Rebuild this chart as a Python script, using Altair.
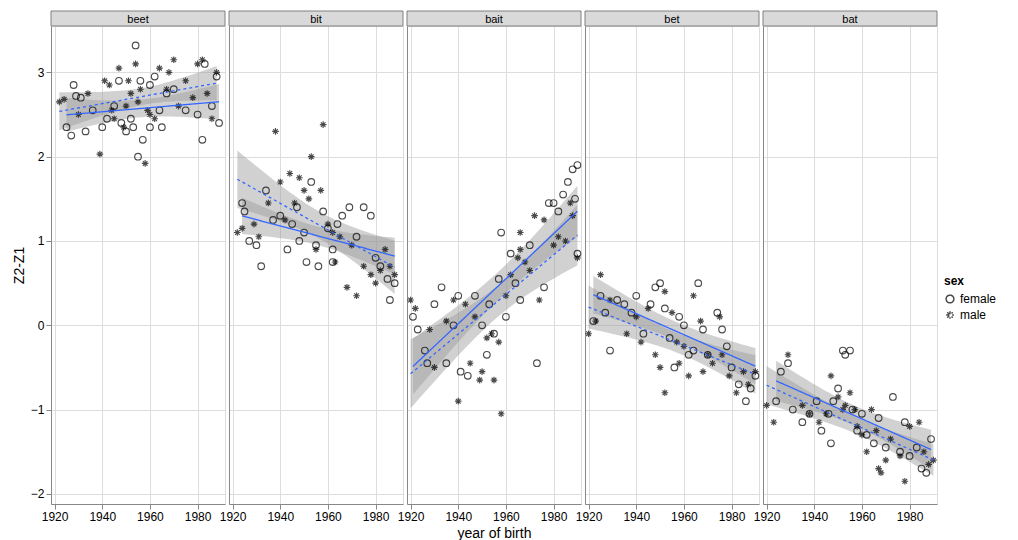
import altair as alt
import numpy as np
import pandas as pd

vowels = ["beet", "bit", "bait", "bet", "bat"]

# (year, Z2-Z1) per vowel and sex
beet_f = [(1925,2.35),(1927,2.25),(1928,2.85),(1929,2.72),(1931,2.7),(1933,2.3),(1936,2.55),(1940,2.35),
          (1942,2.45),(1945,2.6),(1947,2.9),(1948,2.4),(1950,2.3),(1952,2.45),(1953,2.35),(1954,3.32),
          (1955,2.0),(1956,2.9),(1957,2.2),(1960,2.35),(1960,2.85),(1962,2.95),(1964,2.55),(1965,2.35),
          (1967,2.75),(1970,2.8),(1975,2.55),(1980,2.5),(1982,2.2),(1983,3.1),(1986,2.6),(1988,2.95),(1989,2.4)]
beet_m = [(1922,2.65),(1924,2.68),(1930,2.5),(1934,2.75),(1939,2.03),(1941,2.9),(1943,2.85),(1944,2.55),
          (1945,2.45),(1947,3.05),(1949,2.35),(1950,2.6),(1951,2.9),(1952,2.75),(1954,3.1),(1955,2.65),
          (1956,2.8),(1958,1.92),(1959,2.55),(1960,2.5),(1962,2.45),(1964,3.05),(1967,2.8),(1968,3.0),
          (1970,3.15),(1972,2.6),(1975,2.9),(1978,2.7),(1980,3.1),(1982,3.15),(1984,2.75),(1986,2.45),(1988,3.0)]
bit_f = [(1924,1.45),(1925,1.35),(1927,1.0),(1930,0.95),(1932,0.7),(1934,1.6),(1937,1.25),(1940,1.3),
         (1943,0.9),(1945,1.2),(1947,1.4),(1948,1.0),(1950,1.1),(1951,0.75),(1953,1.7),(1955,0.95),
         (1956,0.7),(1958,1.35),(1960,1.15),(1962,0.9),(1962,0.75),(1964,1.2),(1966,1.3),(1969,1.4),
         (1972,1.05),(1975,1.4),(1978,1.3),(1980,0.8),(1982,0.7),(1985,0.55),(1986,0.3),(1988,0.5)]
bit_m = [(1922,1.1),(1924,1.15),(1929,1.2),(1931,1.05),(1935,1.45),(1938,2.3),(1940,1.7),(1942,1.25),
         (1944,1.8),(1946,1.45),(1948,1.75),(1950,1.6),(1952,1.5),(1953,2.0),(1955,0.9),(1957,1.6),
         (1958,2.38),(1960,1.2),(1962,1.1),(1963,0.75),(1965,1.05),(1968,0.45),(1970,0.95),(1972,0.35),
         (1975,0.7),(1978,0.6),(1980,0.5),(1982,0.65),(1984,0.9),(1986,0.7),(1988,0.6)]
bait_f = [(1921,0.1),(1923,-0.05),(1926,-0.3),(1927,-0.45),(1930,0.25),(1933,0.45),(1935,-0.45),(1938,0.0),
          (1940,0.35),(1941,-0.55),(1944,-0.6),(1947,0.35),(1950,0.0),(1952,-0.35),(1953,0.25),(1955,-0.1),
          (1957,0.55),(1958,1.1),(1960,0.1),(1962,0.85),(1964,0.5),(1966,0.3),(1970,0.95),(1973,-0.45),
          (1976,0.45),(1978,1.45),(1980,1.45),(1982,1.35),(1984,1.55),(1986,1.7),(1988,1.85),(1989,1.5),
          (1990,1.9),(1990,0.85)]
bait_m = [(1920,0.3),(1922,0.2),(1928,-0.05),(1930,-0.5),(1935,0.05),(1938,0.3),(1940,-0.9),(1943,0.25),
          (1945,-0.45),(1947,0.1),(1949,-0.65),(1950,-0.55),(1952,-0.15),(1954,-0.1),(1955,-0.65),(1957,-0.2),
          (1958,-1.05),(1960,0.35),(1962,0.6),(1965,0.8),(1966,1.1),(1966,0.9),(1968,0.75),(1970,0.65),
          (1972,1.3),(1974,0.3),(1976,1.25),(1980,0.95),(1982,1.05),(1985,1.0),(1987,1.45),(1988,1.3),(1990,0.8)]
bet_f = [(1922,0.05),(1925,0.35),(1927,0.15),(1929,-0.3),(1932,0.3),(1935,0.25),(1938,0.15),(1940,0.35),
         (1943,-0.1),(1946,0.25),(1948,0.45),(1950,0.5),(1952,0.2),(1954,-0.15),(1956,-0.5),(1958,0.1),
         (1960,0.0),(1962,-0.35),(1964,-0.3),(1966,0.5),(1968,-0.05),(1970,-0.35),(1974,0.15),(1976,-0.05),
         (1978,-0.25),(1980,-0.5),(1983,-0.7),(1986,-0.9),(1988,-0.75),(1990,-0.6)]
bet_m = [(1920,-0.1),(1923,0.05),(1925,0.6),(1929,0.3),(1936,-0.1),(1940,0.1),(1942,-0.2),(1945,0.2),
         (1948,-0.35),(1950,-0.5),(1952,0.4),(1952,-0.8),(1955,0.15),(1957,-0.2),(1958,-0.45),(1960,-0.25),
         (1962,-0.6),(1964,0.35),(1967,0.05),(1968,-0.55),(1970,-0.35),(1972,-0.45),(1975,0.1),(1976,-0.35),
         (1979,-0.6),(1982,-0.8),(1985,-0.55),(1987,-0.7),(1990,-0.55)]
bat_f = [(1924,-0.9),(1926,-0.55),(1929,-0.45),(1931,-1.0),(1935,-1.15),(1938,-1.05),(1941,-0.9),(1943,-1.25),
         (1946,-1.05),(1947,-1.4),(1948,-0.9),(1950,-0.75),(1952,-0.3),(1953,-0.35),(1955,-0.3),(1956,-1.0),
         (1958,-1.25),(1960,-1.05),(1962,-1.3),(1965,-1.4),(1967,-1.1),(1970,-1.45),(1973,-0.85),(1976,-1.5),
         (1978,-1.15),(1980,-1.55),(1983,-1.45),(1985,-1.7),(1987,-1.75),(1989,-1.35)]
bat_m = [(1920,-0.95),(1923,-1.15),(1929,-0.35),(1935,-0.95),(1938,-1.05),(1942,-1.15),(1945,-1.05),(1947,-0.6),
         (1950,-0.85),(1952,-1.0),(1953,-0.95),(1955,-0.8),(1957,-1.0),(1958,-1.2),(1960,-1.3),(1962,-1.5),
         (1964,-1.0),(1966,-1.25),(1967,-1.7),(1968,-1.75),(1970,-1.6),(1972,-1.35),(1976,-1.55),(1978,-1.85),
         (1980,-1.2),(1984,-1.15),(1986,-1.5),(1988,-1.65),(1990,-1.6)]

series = {
    "beet": (beet_f, beet_m), "bit": (bit_f, bit_m), "bait": (bait_f, bait_m),
    "bet": (bet_f, bet_m), "bat": (bat_f, bat_m),
}

ASTERISK = "M-1,0L1,0M0,-1L0,1M-0.7,-0.7L0.7,0.7M-0.7,0.7L0.7,-0.7"
W, H, STRIP = 174, 478, 15
X_DOM = [1918.5, 1991.5]
Y_DOM = [-2.12, 3.55]
LEGEND = alt.Legend(orient="none", legendX=893, legendY=250, titleFontSize=12, labelFontSize=12,
                    symbolStrokeColor="black", symbolSize=60)


def fit_band(pts):
    # least squares line with ~95% confidence band, like geom_smooth(method="lm")
    x = np.array([p[0] for p in pts], float)
    y = np.array([p[1] for p in pts], float)
    n = len(x)
    b, a = np.polyfit(x, y, 1)
    resid = y - (a + b * x)
    s = np.sqrt((resid ** 2).sum() / (n - 2))
    xs = np.linspace(x.min(), x.max(), 40)
    se = s * np.sqrt(1 / n + (xs - x.mean()) ** 2 / ((x - x.mean()) ** 2).sum())
    fit = a + b * xs
    return pd.DataFrame({"year": xs, "fit": fit, "lo": fit - 2.0 * se, "hi": fit + 2.0 * se})


def panel(name, idx):
    fem, mal = series[name]
    pts = pd.DataFrame(
        [{"year": a, "z": b, "sex": "female"} for a, b in fem]
        + [{"year": a, "z": b, "sex": "male"} for a, b in mal]
    )
    fits = []
    for sex, p in (("female", fem), ("male", mal)):
        d = fit_band(p)
        d["sex"] = sex
        fits.append(d)
    fits = pd.concat(fits)

    first, mid = idx == 0, idx == 2
    x_enc = alt.X(
        "year:Q",
        scale=alt.Scale(domain=X_DOM, nice=False),
        axis=alt.Axis(values=[1920, 1940, 1960, 1980], format="d", labelFontSize=12,
                      titleFontSize=14, title="year of birth" if mid else None,
                      titleFontWeight="normal"),
    )
    if first:
        y_axis = alt.Axis(values=[-2, -1, 0, 1, 2, 3], format="d", title="Z2-Z1",
                          titleFontWeight="normal", labelFontSize=12, titleFontSize=14)
    else:
        y_axis = alt.Axis(values=[-2, -1, 0, 1, 2, 3], title=None, labels=False,
                          ticks=False, minExtent=0, maxExtent=0, offset=0)
    y_enc = alt.Y("z:Q", scale=alt.Scale(domain=Y_DOM, nice=False, zero=False), axis=y_axis)

    band = alt.Chart(fits).mark_area(color="#999999", opacity=0.45).encode(
        x=alt.X("year:Q", scale=alt.Scale(domain=X_DOM, nice=False)),
        y=alt.Y("lo:Q", scale=alt.Scale(domain=Y_DOM, nice=False, zero=False)),
        y2="hi:Q",
        detail="sex:N",
    )
    points = alt.Chart(pts).mark_point(filled=False, color="black", size=44, strokeWidth=1.15).encode(
        x=x_enc, y=y_enc,
        shape=alt.Shape("sex:N", title="sex", legend=LEGEND,
                        scale=alt.Scale(domain=["female", "male"], range=["circle", ASTERISK])),
    )
    lines = alt.Chart(fits).mark_line(color="#3366FF", strokeWidth=1.3).encode(
        x="year:Q",
        y=alt.Y("fit:Q"),
        strokeDash=alt.StrokeDash("sex:N", title="sex", legend=LEGEND,
                                  scale=alt.Scale(domain=["female", "male"], range=[[1, 0], [3, 3]])),
    )

    strip_df = pd.DataFrame({"label": [name]})
    strip = alt.Chart(strip_df).mark_rect(fill="#D9D9D9", stroke="#808080", strokeWidth=1).encode(
        x=alt.value(0), x2=alt.value(W), y=alt.value(-STRIP), y2=alt.value(0))
    strip_text = alt.Chart(strip_df).mark_text(fontSize=11, font="Liberation Sans", color="black").encode(
        text="label:N", x=alt.value(W / 2), y=alt.value(-STRIP / 2 + 1))

    return alt.layer(band, points, lines, strip, strip_text).properties(width=W, height=H)


chart = (
    alt.hconcat(*[panel(v, i) for i, v in enumerate(vowels)], spacing=4, bounds="flush")
    .configure_view(stroke="#808080", strokeWidth=1)
    .configure_axis(
        gridColor="#EBEBEB", domain=False, labelFont="Liberation Sans", titleFont="Liberation Sans",
        tickColor="#555555", labelColor="#333333", titleColor="black",
    )
    .configure_legend(titleFont="Liberation Sans", labelFont="Liberation Sans")
    .configure(padding={"left": 3, "top": 2, "right": 5, "bottom": 2})
)

chart.save("out.html", embed_options={"renderer": "svg", "actions": False})
